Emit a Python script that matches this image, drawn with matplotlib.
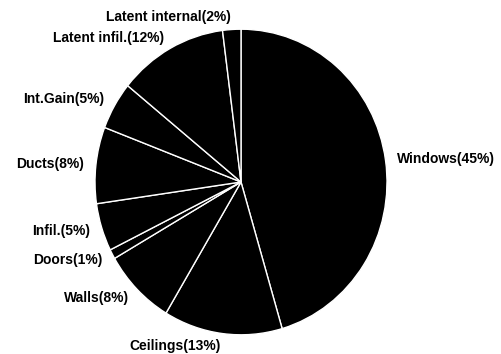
import matplotlib.pyplot as plt

labels = ['Windows(45%)', 'Ceilings(13%)', 'Walls(8%)', 'Doors(1%)', 'Infil.(5%)',
          'Ducts(8%)', 'Int.Gain(5%)', 'Latent infil.(12%)', 'Latent internal(2%)']
shares = [45, 13, 8, 1, 5, 8, 5, 12, 2]

fig = plt.figure(figsize=(5.02, 3.54), dpi=100)
ax = fig.add_axes([58.5 / 502, -19 / 354, 365 / 502, 382 / 354])

ax.pie(shares, labels=labels, colors=['black'] * len(shares), startangle=90,
       counterclock=False, labeldistance=1.08,
       wedgeprops={'edgecolor': 'white', 'linewidth': 1.0},
       textprops={'fontsize': 10, 'family': 'Liberation Sans',
                  'weight': 'bold', 'color': 'black'})
ax.set_aspect('auto')
ax.set_xlim(-1.25, 1.25)
ax.set_ylim(-1.25, 1.25)

fig.savefig('out.png', dpi=100)
